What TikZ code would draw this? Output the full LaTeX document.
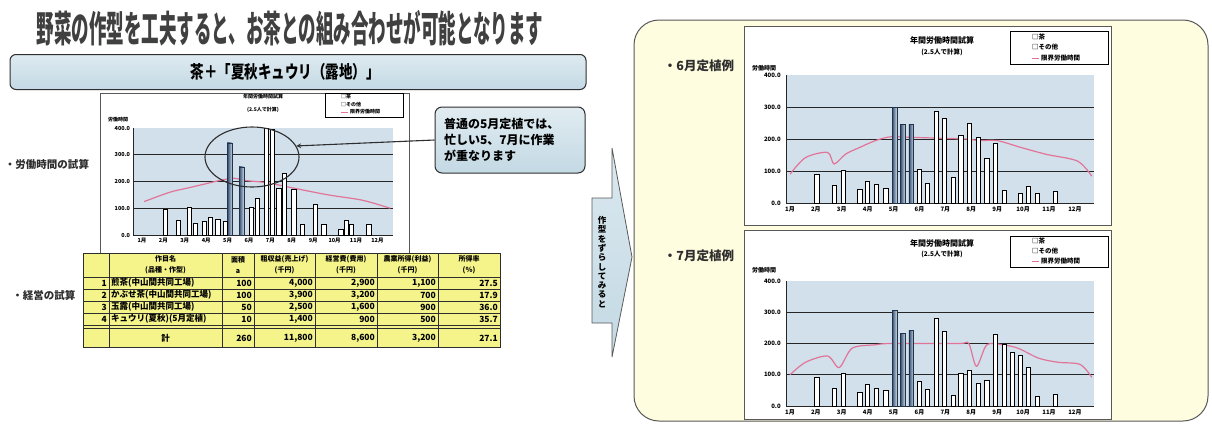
\documentclass[tikz,border=0pt]{standalone}
\usepackage{fontspec}
\setmainfont{Noto Sans CJK JP}
\usepackage{xcolor}
\usepackage{tikz}
\usetikzlibrary{shapes.geometric}

\definecolor{bannerblue}{HTML}{C3D9E4}
\definecolor{panelyellow}{HTML}{FFFDE0}
\definecolor{tableyellow}{HTML}{F4F48A}
\definecolor{plotblue}{HTML}{D2E0EC}
\definecolor{limitpink}{HTML}{E27497}
\definecolor{teablue}{HTML}{34557E}
\definecolor{inkgray}{HTML}{2E2E2E}

\tikzset{
  sidetext/.style={font=\bfseries\fontsize{10.5}{12}\selectfont, inner sep=0pt, text=inkgray},
  chartframe/.style={draw=inkgray!80, fill=white, line width=0.8pt},
  gridline/.style={draw=black!85, line width=0.9pt},
  teabar/.style={draw=teablue!60!black, line width=0.4pt, left color=teablue!90!black, right color=teablue!25},
  otherbar/.style={draw=black, line width=0.8pt, fill=white},
  limitline/.style={draw=limitpink, line width=1.2pt},
  ticklabel/.style={font=\bfseries\fontsize{6}{7}\selectfont, inner sep=0pt},
  monthlabel/.style={font=\bfseries\fontsize{6}{7}\selectfont, inner sep=0pt},
  legendbox/.style={draw=black, line width=0.8pt, fill=white},
  tablerule/.style={draw=inkgray, line width=0.9pt},
  cell/.style={font=\bfseries\fontsize{8.5}{9}\selectfont, inner sep=0pt},
  headcell/.style={font=\bfseries\fontsize{7}{11}\selectfont, inner sep=0pt, align=center},
}

\begin{document}
\begin{tikzpicture}[x=1pt, y=-1pt]
\useasboundingbox (0,0) rectangle (1212,424);
\fill[white] (0,0) rectangle (1212,424);

% title and banner
\node [style={font=\bfseries\fontsize{17.5}{20}\selectfont, text=black!75, inner sep=0pt}] (title) at (290,28) {\scalebox{1}[2.1]{野菜の作型を工夫すると、お茶との組み合わせが可能となります}};
\node [style={draw=inkgray, line width=1pt, rounded corners=6pt, top color=bannerblue!55, bottom color=bannerblue, minimum width=576pt, minimum height=35pt}] (banner) at (298,72) {};
\node [style={font=\bfseries\fontsize{13.5}{15}\selectfont, inner sep=0pt}] (bannertext) at (285,72) {\scalebox{1}[1.3]{茶＋「夏秋キュウリ（露地）」}};

% left side labels
\node [sidetext] (worklabel) at (47,164) {・労働時間の試算};
\node [sidetext] (farmlabel) at (44,295) {・経営の試算};

% left chart
\draw [chartframe] (100,93) rectangle (409,253);
\node [style={font=\bfseries\fontsize{5}{6}\selectfont, inner sep=0pt}] (ltitle) at (263,97) {年間労働時間試算};
\node [style={font=\bfseries\fontsize{5}{6}\selectfont, inner sep=0pt}] (lsub) at (263,110) {(2.5人で計算)};
\draw [legendbox] (325,93) rectangle (403,117);
\node [style={font=\bfseries\fontsize{5}{6}\selectfont, inner sep=0pt, anchor=west}] (lleg1) at (341,97) {□茶};
\node [style={font=\bfseries\fontsize{5}{6}\selectfont, inner sep=0pt, anchor=west}] (lleg2) at (341,105) {□その他};
\draw [limitline, line width=0.8pt] (341,112) -- (348,112);
\node [style={font=\bfseries\fontsize{5}{6}\selectfont, inner sep=0pt, anchor=west}] (lleg3) at (350,112) {限界労働時間};
\node [style={font=\bfseries\fontsize{5}{6}\selectfont, inner sep=0pt, anchor=west}] (lylabel) at (108,120) {労働時間};
\begin{scope}[shift={(142,235)}, x=21.4pt, y=0.2675pt]
  \fill [plotblue] (-0.42,0) rectangle (11.73,400);
  \foreach \g in {100,200,300} \draw [gridline] (-0.42,\g) -- (11.73,\g);
  \draw [gridline] (-0.42,400) -- (-0.42,0) -- (11.73,0);
  \foreach \g/\t in {0/0.0,100/100.0,200/200.0,300/300.0,400/400.0}
    \node [ticklabel, anchor=east, font=\bfseries\fontsize{5.5}{6}\selectfont] (ltick-\g) at (-0.55,\g) {\t};
  \foreach \m in {1,...,12}
    \node [monthlabel, anchor=north, font=\bfseries\fontsize{5.5}{6}\selectfont] (lmonth-\m) at (\m-1,-12) {\m{}月};
  \draw [limitline] plot [smooth] coordinates {(0.1,125) (1.3,160) (2.1,175) (2.9,190) (3.7,205) (4.3,212) (4.9,203) (5.8,196) (7.1,175) (8.7,150) (10.3,130) (11.6,100)};
  \foreach \f/\v in {5.1/345,5.65/255}
    \draw [teabar] ({\f-1-0.11},0) rectangle ({\f-1+0.11},\v);
  \foreach \f/\v in {2.1/95,2.7/55,3.2/105,3.5/45,3.9/50,4.2/65,4.55/60,4.9/50,6.1/105,6.4/135,6.8/400,7.1/395,7.4/175,7.65/231,8.1/170,8.5/40,9.1/115,9.5/40,10.3/20,10.55/55,10.8/40,11.6/40}
    \draw [otherbar] ({\f-1-0.1},0) rectangle ({\f-1+0.1},\v);
\end{scope}
\node [style={draw=inkgray, ellipse, line width=1.1pt, minimum width=94pt, minimum height=60pt}] (busy) at (252,157) {};

% callout
\node [style={draw=inkgray, line width=1pt, rounded corners=7pt, top color=bannerblue!50, bottom color=bannerblue, minimum width=150pt, minimum height=66pt, text width=132pt, align=left, font=\bfseries\fontsize{12}{16}\selectfont}] (callout) at (510,140) {普通の5月定植では、\\忙しい5、7月に作業\\が重なります};
\draw [inkgray, line width=1.1pt, -stealth] (callout.west) -- (busy.14);

% table
\fill [tableyellow] (83,253) rectangle (500,347);
\draw [tablerule] (83,253) rectangle (500,347);
\foreach \yy in {277,289,301,313} \draw [tablerule] (83,\yy) -- (500,\yy);
\draw [tablerule] (83,325) -- (500,325);
\draw [tablerule] (83,328) -- (500,328);
\foreach \xx in {109,222,254,315,377,438} \draw [tablerule] (\xx,253) -- (\xx,347);
\foreach \c/\xx/\t in {2/165.5/{作目名\\(品種・作型)},3/238/{面積\\a},4/284.5/{粗収益(売上げ)\\(千円)},5/346/{経営費(費用)\\(千円)},6/407.5/{農業所得(利益)\\(千円)},7/469/{所得率\\(％)}}
  \node [headcell] (head-\c) at (\xx,265) {\t};
\foreach \r/\yy/\n/\name/\area/\sales/\cost/\inc/\rate in {
    1/283/1/{煎茶(中山間共同工場)}/100/{4,000}/{2,900}/{1,100}/27.5,
    2/295/2/{かぶせ茶(中山間共同工場)}/100/{3,900}/{3,200}/700/17.9,
    3/307/3/{玉露(中山間共同工場)}/50/{2,500}/{1,600}/900/36.0,
    4/319/4/{キュウリ(夏秋)(5月定植)}/10/{1,400}/900/500/35.7}{
  \node [cell, anchor=east] (num-\r) at (107,\yy) {\n};
  \node [cell, anchor=west] (name-\r) at (111,\yy) {\name};
  \node [cell, anchor=east] (area-\r) at (252,\yy) {\area};
  \node [cell, anchor=east] (sales-\r) at (313,\yy) {\sales};
  \node [cell, anchor=east] (cost-\r) at (375,\yy) {\cost};
  \node [cell, anchor=east] (inc-\r) at (436,\yy) {\inc};
  \node [cell, anchor=east] (rate-\r) at (498,\yy) {\rate};
}
\node [cell] (name-sum) at (165.5,338) {計};
\node [cell, anchor=east] (area-sum) at (252,338) {260};
\node [cell, anchor=east] (sales-sum) at (313,338) {11,800};
\node [cell, anchor=east] (cost-sum) at (375,338) {8,600};
\node [cell, anchor=east] (inc-sum) at (436,338) {3,200};
\node [cell, anchor=east] (rate-sum) at (498,338) {27.1};

% shift arrow
\draw [draw=inkgray!80, line width=0.8pt, top color=bannerblue!60, bottom color=bannerblue] (592,198) -- (612,198) -- (612,148) -- (632,257) -- (612,357) -- (612,323) -- (592,323) -- cycle;
\node [style={font=\bfseries\fontsize{8.5}{9.3}\selectfont, inner sep=0pt, align=center}] (shifttext) at (602,262) {作\\型\\を\\ず\\ら\\し\\て\\み\\る\\と};

% right panel
\draw [draw=inkgray!80, line width=1pt, fill=panelyellow, rounded corners=25pt] (634,20) rectangle (1208,421);
\node [sidetext, font=\bfseries\fontsize{12.5}{14}\selectfont] (junelabel) at (699,66) {・6月定植例};
\node [sidetext, font=\bfseries\fontsize{12.5}{14}\selectfont] (julylabel) at (699,256) {・7月定植例};

% chart for june planting
\draw [chartframe] (744,26) rectangle (1111,225);
\node [style={font=\bfseries\fontsize{8}{9}\selectfont, inner sep=0pt}] (jtitle) at (942,40) {年間労働時間試算};
\node [style={font=\bfseries\fontsize{6.5}{8}\selectfont, inner sep=0pt}] (jsub) at (942,52) {(2.5人で計算)};
\draw [legendbox] (1010,31) rectangle (1108,64);
\node [style={font=\bfseries\fontsize{6.5}{8}\selectfont, inner sep=0pt, anchor=west}] (jleg1) at (1032,37) {□茶};
\node [style={font=\bfseries\fontsize{6.5}{8}\selectfont, inner sep=0pt, anchor=west}] (jleg2) at (1032,47) {□その他};
\draw [limitline, line width=0.8pt] (1032,58) -- (1039,58);
\node [style={font=\bfseries\fontsize{6.5}{8}\selectfont, inner sep=0pt, anchor=west}] (jleg3) at (1041,58) {限界労働時間};
\node [style={font=\bfseries\fontsize{6}{7}\selectfont, inner sep=0pt, anchor=west}] (jylabel) at (752,68) {労働時間};
\begin{scope}[shift={(790,203)}, x=25.9pt, y=0.32pt]
  \fill [plotblue] (-0.15,0) rectangle (11.74,400);
  \foreach \g in {100,200,300} \draw [gridline] (-0.15,\g) -- (11.74,\g);
  \draw [gridline] (-0.15,400) -- (-0.15,0) -- (11.74,0);
  \foreach \g/\t in {0/0.0,100/100.0,200/200.0,300/300.0,400/400.0}
    \node [ticklabel, anchor=east] (jtick-\g) at (-0.35,\g) {\t};
  \foreach \m in {1,...,12}
    \node [monthlabel, anchor=north] (jmonth-\m) at (\m-1,-10) {\m{}月};
  \draw [limitline] plot [smooth] coordinates {(0,90) (0.6,142) (1.45,158) (1.7,122) (2.15,153) (2.7,174) (3.3,195) (3.9,207) (4.75,205) (6.75,200) (7.3,195) (8,195) (8.9,174) (9.9,152) (11.1,131) (11.65,84)};
  \foreach \f/\v in {5.03/300,5.35/245,5.68/245}
    \draw [teabar] ({\f-1-0.09},0) rectangle ({\f-1+0.09},\v);
  \foreach \f/\v in {2.04/90,2.7/55,3.05/102,3.7/42,4.0/68,4.35/58,4.7/47,6.0/105,6.3/62,6.65/285,6.97/265,7.3/80,7.6/210,7.94/250,8.27/205,8.6/140,8.94/185,9.27/40,9.9/30,10.2/52,10.55/30,11.25/35}
    \draw [otherbar] ({\f-1-0.08},0) rectangle ({\f-1+0.08},\v);
\end{scope}

% chart for july planting
\draw [chartframe] (744,230) rectangle (1111,419);
\node [style={font=\bfseries\fontsize{8}{9}\selectfont, inner sep=0pt}] (ktitle) at (942,243) {年間労働時間試算};
\node [style={font=\bfseries\fontsize{6.5}{8}\selectfont, inner sep=0pt}] (ksub) at (942,254) {(2.5人で計算)};
\draw [legendbox] (1010,236) rectangle (1108,267);
\node [style={font=\bfseries\fontsize{6.5}{8}\selectfont, inner sep=0pt, anchor=west}] (kleg1) at (1032,241) {□茶};
\node [style={font=\bfseries\fontsize{6.5}{8}\selectfont, inner sep=0pt, anchor=west}] (kleg2) at (1032,251) {□その他};
\draw [limitline, line width=0.8pt] (1032,261) -- (1039,261);
\node [style={font=\bfseries\fontsize{6.5}{8}\selectfont, inner sep=0pt, anchor=west}] (kleg3) at (1041,261) {限界労働時間};
\node [style={font=\bfseries\fontsize{6}{7}\selectfont, inner sep=0pt, anchor=west}] (kylabel) at (752,270) {労働時間};
\begin{scope}[shift={(790,406)}, x=25.9pt, y=0.3125pt]
  \fill [plotblue] (-0.15,0) rectangle (11.74,400);
  \foreach \g in {100,200,300} \draw [gridline] (-0.15,\g) -- (11.74,\g);
  \draw [gridline] (-0.15,400) -- (-0.15,0) -- (11.74,0);
  \foreach \g/\t in {0/0.0,100/100.0,200/200.0,300/300.0,400/400.0}
    \node [ticklabel, anchor=east] (ktick-\g) at (-0.35,\g) {\t};
  \foreach \m in {1,...,12}
    \node [monthlabel, anchor=north] (kmonth-\m) at (\m-1,-10) {\m{}月};
  \draw [limitline] plot [smooth] coordinates {(0,100) (0.6,140) (1.45,160) (1.9,123) (2.4,185) (3.3,196) (3.9,200) (6.5,200) (6.9,200) (7.2,127) (7.6,196) (8.2,196) (8.8,185) (9.6,153) (10.35,140) (11.2,133) (11.65,92)};
  \foreach \f/\v in {5.03/305,5.35/232,5.68/243}
    \draw [teabar] ({\f-1-0.09},0) rectangle ({\f-1+0.09},\v);
  \foreach \f/\v in {2.04/92,2.7/55,3.05/105,3.7/42,4.0/69,4.35/55,4.7/50,6.0/79,6.3/52,6.65/281,6.97/240,7.3/34,7.6/105,7.94/115,8.27/71,8.6/83,8.94/229,9.27/196,9.6/170,9.9/162,10.2/123,10.55/31,11.25/37}
    \draw [otherbar] ({\f-1-0.08},0) rectangle ({\f-1+0.08},\v);
\end{scope}
\end{tikzpicture}
\end{document}
